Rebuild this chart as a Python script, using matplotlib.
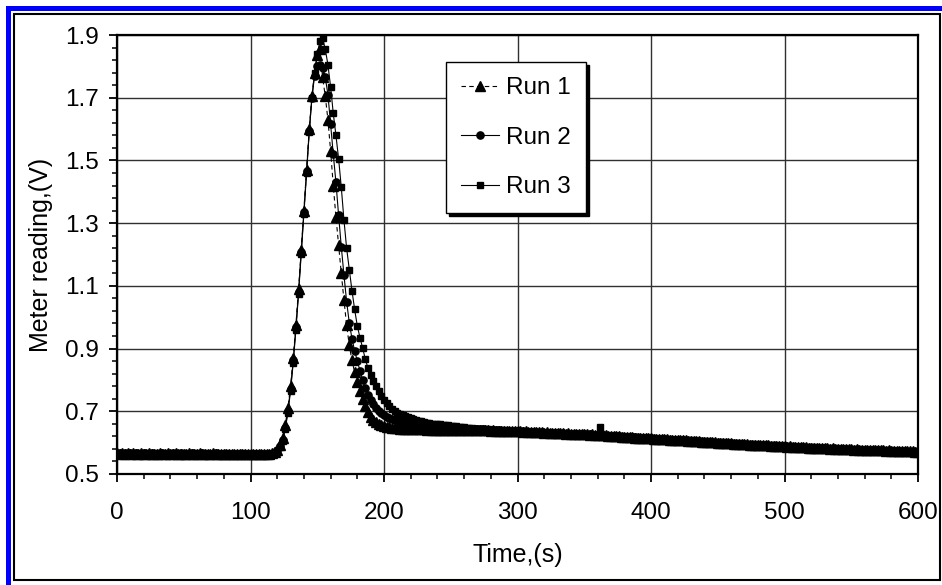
import matplotlib
matplotlib.use("Agg")
import matplotlib.pyplot as plt
from matplotlib.patches import Rectangle

plt.rcParams['font.family'] = ['Liberation Sans', 'DejaVu Sans']

# sample times (s), one reading every 2 s
time_s = list(range(0, 601, 2))

run1 = [
    0.566, 0.565, 0.567, 0.564, 0.566, 0.565, 0.566, 0.564, 0.565, 0.567,
    0.565, 0.564, 0.566, 0.565, 0.563, 0.565, 0.566, 0.564, 0.565, 0.566,
    0.564, 0.565, 0.566, 0.565, 0.564, 0.563, 0.565, 0.566, 0.564, 0.565,
    0.565, 0.566, 0.564, 0.565, 0.563, 0.564, 0.566, 0.565, 0.564, 0.565,
    0.564, 0.565, 0.563, 0.564, 0.565, 0.564, 0.563, 0.565, 0.564, 0.563,
    0.564, 0.563, 0.565, 0.564, 0.563, 0.564, 0.565, 0.563, 0.566, 0.570,
    0.578, 0.592, 0.615, 0.655, 0.710, 0.780, 0.870, 0.975, 1.090, 1.215,
    1.340, 1.470, 1.600, 1.705, 1.780, 1.835, 1.855, 1.765, 1.705, 1.630,
    1.530, 1.420, 1.320, 1.230, 1.140, 1.055, 0.975, 0.910, 0.862, 0.825,
    0.794, 0.764, 0.738, 0.716, 0.697, 0.682, 0.672, 0.665, 0.660, 0.656,
    0.653, 0.651, 0.649, 0.648, 0.647, 0.646, 0.645, 0.645, 0.644, 0.644,
    0.643, 0.643, 0.643, 0.642, 0.642, 0.642, 0.641, 0.642, 0.641, 0.641,
    0.641, 0.640, 0.641, 0.640, 0.640, 0.641, 0.640, 0.640, 0.639, 0.640,
    0.640, 0.639, 0.640, 0.639, 0.640, 0.639, 0.639, 0.640, 0.639, 0.639,
    0.638, 0.639, 0.638, 0.638, 0.637, 0.638, 0.637, 0.637, 0.636, 0.637,
    0.636, 0.636, 0.635, 0.636, 0.635, 0.634, 0.635, 0.634, 0.633, 0.634,
    0.632, 0.633, 0.632, 0.631, 0.632, 0.630, 0.631, 0.630, 0.629, 0.630,
    0.628, 0.629, 0.627, 0.628, 0.627, 0.626, 0.627, 0.625, 0.626, 0.625,
    0.624, 0.625, 0.623, 0.623, 0.622, 0.621, 0.622, 0.620, 0.621, 0.619,
    0.619, 0.618, 0.618, 0.617, 0.616, 0.616, 0.615, 0.616, 0.614, 0.615,
    0.614, 0.613, 0.613, 0.612, 0.612, 0.611, 0.611, 0.610, 0.609, 0.610,
    0.608, 0.608, 0.607, 0.607, 0.606, 0.606, 0.605, 0.605, 0.604, 0.603,
    0.603, 0.602, 0.602, 0.601, 0.601, 0.600, 0.600, 0.599, 0.599, 0.598,
    0.598, 0.597, 0.597, 0.596, 0.596, 0.595, 0.595, 0.594, 0.594, 0.593,
    0.593, 0.592, 0.592, 0.591, 0.591, 0.590, 0.590, 0.589, 0.589, 0.588,
    0.588, 0.587, 0.588, 0.587, 0.586, 0.586, 0.585, 0.586, 0.585, 0.584,
    0.584, 0.584, 0.583, 0.583, 0.582, 0.583, 0.582, 0.581, 0.582, 0.581,
    0.580, 0.581, 0.580, 0.579, 0.580, 0.579, 0.578, 0.579, 0.578, 0.577,
    0.577, 0.577, 0.576, 0.577, 0.576, 0.575, 0.576, 0.575, 0.574, 0.575,
    0.574, 0.574, 0.573, 0.574, 0.573, 0.572, 0.573, 0.572, 0.572, 0.571,
    0.571,
]

run2 = [
    0.565, 0.566, 0.564, 0.566, 0.565, 0.567, 0.565, 0.566, 0.564, 0.565,
    0.566, 0.565, 0.564, 0.566, 0.565, 0.564, 0.565, 0.567, 0.565, 0.564,
    0.565, 0.566, 0.564, 0.565, 0.566, 0.565, 0.564, 0.565, 0.566, 0.564,
    0.564, 0.565, 0.566, 0.564, 0.565, 0.565, 0.564, 0.566, 0.565, 0.564,
    0.565, 0.564, 0.565, 0.563, 0.564, 0.565, 0.564, 0.564, 0.563, 0.565,
    0.563, 0.564, 0.564, 0.563, 0.565, 0.563, 0.564, 0.564, 0.565, 0.568,
    0.575, 0.588, 0.610, 0.648, 0.702, 0.772, 0.862, 0.968, 1.082, 1.208,
    1.335, 1.465, 1.595, 1.700, 1.770, 1.800, 1.805, 1.795, 1.765, 1.710,
    1.615, 1.520, 1.430, 1.325, 1.225, 1.135, 1.050, 0.982, 0.932, 0.893,
    0.860, 0.830, 0.800, 0.774, 0.752, 0.735, 0.722, 0.710, 0.700, 0.693,
    0.687, 0.682, 0.678, 0.674, 0.671, 0.668, 0.666, 0.664, 0.663, 0.662,
    0.661, 0.660, 0.659, 0.658, 0.657, 0.656, 0.655, 0.654, 0.653, 0.652,
    0.651, 0.650, 0.650, 0.649, 0.649, 0.648, 0.648, 0.647, 0.647, 0.646,
    0.645, 0.645, 0.644, 0.644, 0.643, 0.643, 0.642, 0.642, 0.641, 0.641,
    0.640, 0.640, 0.639, 0.639, 0.638, 0.638, 0.637, 0.637, 0.636, 0.636,
    0.636, 0.635, 0.636, 0.634, 0.635, 0.633, 0.634, 0.633, 0.632, 0.633,
    0.632, 0.631, 0.632, 0.630, 0.631, 0.630, 0.629, 0.630, 0.628, 0.629,
    0.628, 0.627, 0.628, 0.626, 0.627, 0.626, 0.625, 0.626, 0.624, 0.625,
    0.624, 0.623, 0.624, 0.622, 0.622, 0.621, 0.621, 0.620, 0.620, 0.619,
    0.619, 0.618, 0.618, 0.617, 0.617, 0.616, 0.615, 0.615, 0.614, 0.615,
    0.614, 0.613, 0.612, 0.612, 0.611, 0.611, 0.610, 0.610, 0.609, 0.609,
    0.608, 0.607, 0.607, 0.606, 0.606, 0.605, 0.605, 0.604, 0.604, 0.603,
    0.603, 0.602, 0.601, 0.601, 0.600, 0.600, 0.599, 0.599, 0.598, 0.598,
    0.598, 0.597, 0.596, 0.596, 0.595, 0.595, 0.594, 0.594, 0.593, 0.593,
    0.593, 0.592, 0.591, 0.591, 0.590, 0.590, 0.589, 0.589, 0.588, 0.588,
    0.588, 0.587, 0.587, 0.586, 0.586, 0.585, 0.585, 0.585, 0.584, 0.584,
    0.584, 0.583, 0.583, 0.582, 0.582, 0.582, 0.581, 0.581, 0.580, 0.580,
    0.580, 0.580, 0.579, 0.579, 0.578, 0.578, 0.578, 0.577, 0.577, 0.577,
    0.577, 0.576, 0.576, 0.575, 0.575, 0.575, 0.574, 0.574, 0.574, 0.573,
    0.574, 0.573, 0.573, 0.572, 0.572, 0.572, 0.571, 0.571, 0.571, 0.570,
    0.570,
]

run3 = [
    0.567, 0.565, 0.566, 0.565, 0.567, 0.566, 0.564, 0.566, 0.567, 0.565,
    0.566, 0.567, 0.565, 0.566, 0.564, 0.566, 0.567, 0.565, 0.566, 0.565,
    0.566, 0.564, 0.565, 0.567, 0.565, 0.566, 0.565, 0.564, 0.566, 0.565,
    0.566, 0.564, 0.565, 0.566, 0.565, 0.563, 0.565, 0.566, 0.564, 0.565,
    0.564, 0.566, 0.564, 0.565, 0.563, 0.565, 0.564, 0.566, 0.564, 0.563,
    0.565, 0.564, 0.563, 0.565, 0.564, 0.564, 0.563, 0.565, 0.565, 0.567,
    0.573, 0.585, 0.606, 0.642, 0.695, 0.765, 0.855, 0.960, 1.075, 1.200,
    1.330, 1.460, 1.590, 1.700, 1.780, 1.840, 1.880, 1.890, 1.855, 1.805,
    1.735, 1.650, 1.580, 1.505, 1.415, 1.310, 1.220, 1.152, 1.085, 1.025,
    0.972, 0.935, 0.902, 0.866, 0.838, 0.816, 0.797, 0.780, 0.764, 0.749,
    0.736, 0.725, 0.716, 0.708, 0.701, 0.696, 0.692, 0.688, 0.684, 0.681,
    0.678, 0.675, 0.672, 0.670, 0.668, 0.666, 0.664, 0.662, 0.661, 0.660,
    0.659, 0.658, 0.657, 0.656, 0.655, 0.654, 0.653, 0.652, 0.651, 0.650,
    0.649, 0.648, 0.647, 0.646, 0.645, 0.645, 0.644, 0.643, 0.643, 0.642,
    0.641, 0.641, 0.640, 0.640, 0.639, 0.639, 0.638, 0.638, 0.637, 0.637,
    0.636, 0.636, 0.635, 0.635, 0.634, 0.634, 0.633, 0.634, 0.633, 0.632,
    0.632, 0.632, 0.631, 0.631, 0.630, 0.630, 0.630, 0.629, 0.629, 0.628,
    0.628, 0.628, 0.627, 0.627, 0.626, 0.626, 0.626, 0.625, 0.625, 0.624,
    0.624, 0.650, 0.623, 0.623, 0.622, 0.622, 0.621, 0.621, 0.620, 0.620,
    0.619, 0.619, 0.618, 0.618, 0.617, 0.617, 0.616, 0.616, 0.615, 0.615,
    0.614, 0.614, 0.613, 0.613, 0.612, 0.612, 0.611, 0.611, 0.610, 0.610,
    0.609, 0.609, 0.608, 0.608, 0.607, 0.607, 0.606, 0.606, 0.605, 0.605,
    0.604, 0.604, 0.603, 0.603, 0.602, 0.602, 0.601, 0.601, 0.600, 0.600,
    0.599, 0.599, 0.598, 0.598, 0.597, 0.597, 0.596, 0.596, 0.595, 0.595,
    0.594, 0.594, 0.593, 0.593, 0.592, 0.592, 0.591, 0.591, 0.590, 0.590,
    0.589, 0.589, 0.588, 0.588, 0.587, 0.587, 0.587, 0.586, 0.586, 0.585,
    0.585, 0.585, 0.584, 0.584, 0.583, 0.583, 0.583, 0.582, 0.582, 0.582,
    0.581, 0.581, 0.581, 0.580, 0.580, 0.580, 0.579, 0.579, 0.579, 0.578,
    0.578, 0.578, 0.577, 0.577, 0.577, 0.576, 0.576, 0.576, 0.575, 0.575,
    0.575, 0.574, 0.574, 0.574, 0.573, 0.573, 0.573, 0.572, 0.572, 0.572,
    0.572,
]

x_ticks = [0, 100, 200, 300, 400, 500, 600]
y_ticks = [0.5, 0.7, 0.9, 1.1, 1.3, 1.5, 1.7, 1.9]

W, H = 942, 585
fig = plt.figure(figsize=(W / 100, H / 100), dpi=100)
ax = fig.add_axes([117 / W, (H - 474) / H, (918 - 117) / W, (474 - 35) / H])

ax.plot(time_s, run1, color='black', lw=0.8, dashes=(4, 3), marker='^', ms=6.5,
        mfc='black', mec='black', label='Run 1')
ax.plot(time_s, run2, color='black', lw=0.8, marker='o', ms=5.2,
        mfc='black', mec='black', label='Run 2')
ax.plot(time_s, run3, color='black', lw=0.8, marker='s', ms=5,
        mfc='black', mec='black', label='Run 3')

ax.set_xlim(0, 600)
ax.set_ylim(0.5, 1.9)
ax.set_xticks(x_ticks)
ax.set_yticks(y_ticks)
ax.set_yticklabels([f"{v:.1f}" for v in y_ticks])
ax.set_xticks(range(0, 601, 20), minor=True)
ax.set_yticks([0.5 + 0.04 * i for i in range(36)], minor=True)
ax.tick_params(axis='both', which='major', direction='out', length=6, width=1.3,
               labelsize=17.5, color='black')
ax.tick_params(axis='both', which='minor', direction='out', length=3.8, width=1.1,
               color='black')
ax.tick_params(axis='x', which='major', pad=14)
ax.tick_params(axis='y', which='major', pad=7)
ax.grid(True, which='major', color='#303030', lw=1.0)
ax.set_axisbelow(True)
for sp in ax.spines.values():
    sp.set_linewidth(1.6)
    sp.set_color('black')

ax.set_xlabel('Time,(s)', fontsize=18, labelpad=14)
ax.set_ylabel('Meter reading,(V)', fontsize=18, labelpad=9)

leg = ax.legend(loc='upper left', bbox_to_anchor=(0.411, 0.9385), borderaxespad=0,
                fontsize=17.5, frameon=True, fancybox=False, edgecolor='black',
                framealpha=1, numpoints=1, handlelength=1.55, handletextpad=0.3,
                labelspacing=1.13, borderpad=0.62,
                shadow={'color': 'black', 'alpha': 1})
leg.get_frame().set_linewidth(1.0)

# outer frames: blue border and inner black border
fig.patches.append(Rectangle((7.5 / W, -2 / H), (W + 10) / W, (H - 5.5) / H,
                             transform=fig.transFigure, fill=False,
                             edgecolor='#0000ff', lw=3.6, zorder=0))
fig.patches.append(Rectangle((13.5 / W, 5.5 / H), (940 - 13.5) / W, (579.5 - 13.5) / H,
                             transform=fig.transFigure, fill=False,
                             edgecolor='black', lw=1.5, zorder=0))

fig.savefig('out.png', dpi=100, facecolor='white')
